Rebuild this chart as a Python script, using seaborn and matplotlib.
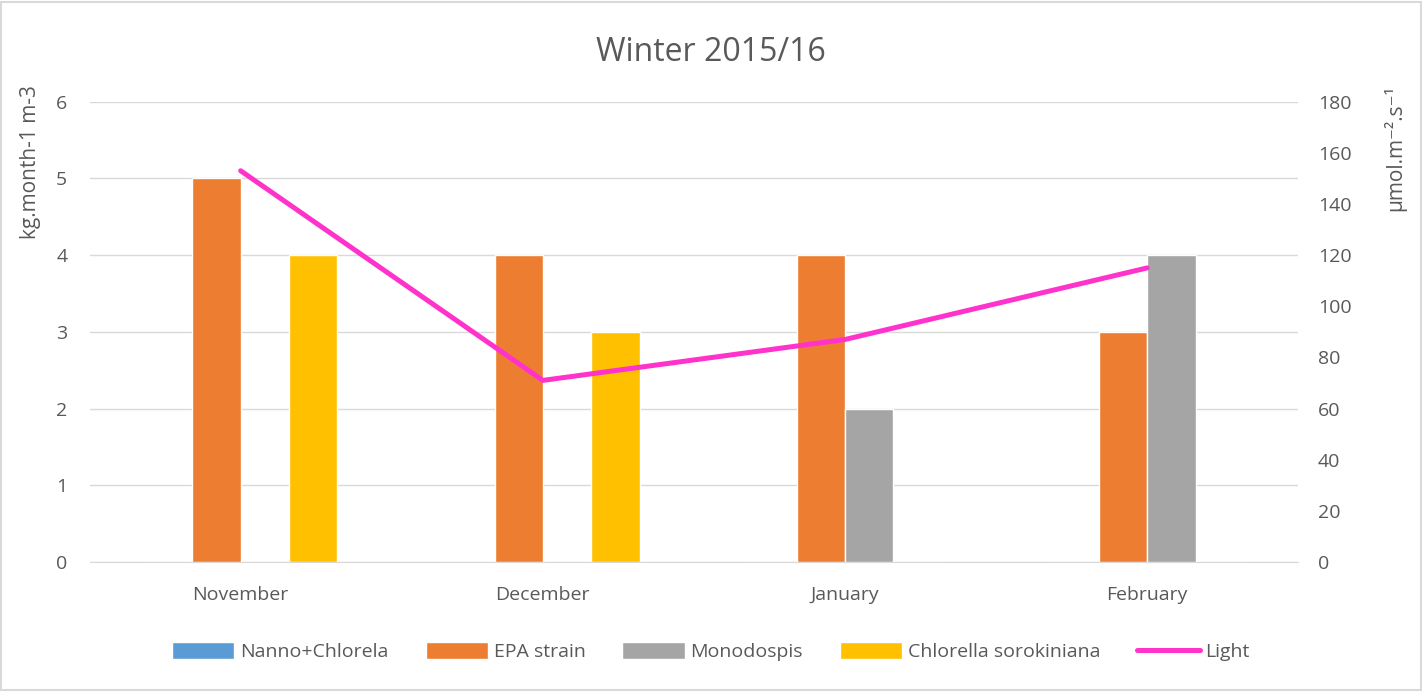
import numpy as np
import pandas as pd
import matplotlib.pyplot as plt
import seaborn as sns
from matplotlib.patches import Rectangle

# --- dane ---
months = ["November", "December", "January", "February"]
nanno = [0, 0, 0, 0]
epa = [5, 4, 4, 3]
monodospis = [0, 0, 2, 4]
sorokiniana = [4, 3, 0, 0]
light = [153, 71, 87, 115]

series = ["Nanno+Chlorela", "EPA strain", "Monodospis", "Chlorella sorokiniana"]
colors = ["#5B9BD5", "#ED7D31", "#A5A5A5", "#FFC000"]
txt = "#595959"

df = pd.DataFrame({
    "month": months * 4,
    "series": np.repeat(series, 4),
    "value": nanno + epa + monodospis + sorokiniana,
})

sns.set_style("white")
plt.rcParams["font.family"] = ["Open Sans", "DejaVu Sans"]

fig = plt.figure(figsize=(14.22, 6.92), dpi=100)
ax = fig.add_axes([0.063, 0.188, 0.85, 0.665])

sns.barplot(data=df, x="month", y="value", hue="series", order=months,
            hue_order=series, palette=colors, width=0.64, gap=0,
            saturation=1, ax=ax, legend=True)
ax.set_ylim(0, 6)
ax.set_xlim(-0.5, 3.5)
ax.set_yticks(range(7))
ax.yaxis.grid(True, color="#D9D9D9", lw=1)
ax.set_axisbelow(True)
for s in ax.spines.values():
    s.set_visible(False)
ax.spines["bottom"].set_visible(True)
ax.spines["bottom"].set_color("#D9D9D9")
ax.tick_params(colors=txt, labelsize=14, length=0)
ax.tick_params(axis="x", pad=17)
ax.tick_params(axis="y", pad=16)
ax.set_xlabel("")
ax.set_ylabel("kg.month-1 m-3", color=txt, fontsize=15, loc="top")
ax.yaxis.set_label_coords(-0.040, 1.037)

ax2 = ax.twinx()
sns.lineplot(x=np.arange(len(months)), y=light, color="#FF33CC", lw=3.6,
             ax=ax2, label="Light", legend=False)
ax2.set_ylim(0, 180)
ax2.set_yticks(range(0, 181, 20))
for s in ax2.spines.values():
    s.set_visible(False)
ax2.tick_params(colors=txt, labelsize=14, length=0, pad=14)
ax2.set_ylabel("µmol.m⁻².s⁻¹", color=txt, fontsize=15, loc="top")
ax2.yaxis.set_label_coords(1.070, 1.037)

# legenda
h1, l1 = ax.get_legend_handles_labels()
h2, l2 = ax2.get_legend_handles_labels()
ax.get_legend().remove()
fig.legend(h1 + h2, l1 + l2, loc="center", bbox_to_anchor=(0.5, 0.058),
           ncol=5, frameon=False, fontsize=14, labelcolor=txt,
           handlelength=3.2, handleheight=0.9, columnspacing=1.9,
           handletextpad=0.3)

fig.suptitle("Winter 2015/16", x=0.5, y=0.948, fontsize=23, color=txt)

fig.patches.append(Rectangle((0.001, 0.003), 0.998, 0.994, transform=fig.transFigure,
                             fill=False, edgecolor="#D9D9D9", lw=1.5))

fig.savefig("out.png", dpi=100)
